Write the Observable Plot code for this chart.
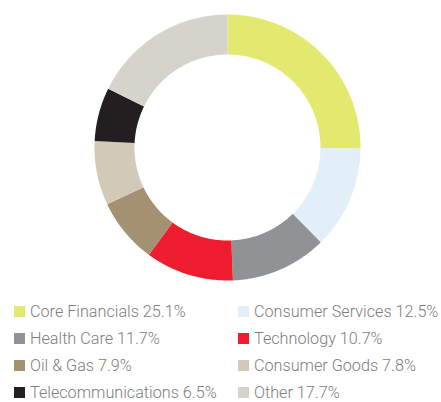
<!DOCTYPE html>
<html>
<head>
<meta charset="utf-8">
<script src="https://cdn.jsdelivr.net/npm/d3@7"></script>
<script src="https://cdn.jsdelivr.net/npm/@observablehq/plot@0.6"></script>
<style>
  html, body { margin: 0; padding: 0; background: #fff; }
  #chart { width: 441px; height: 402px; position: relative; overflow: hidden; }
  #legend { position: absolute; left: 14px; top: 298px; display: grid; grid-template-columns: 224px 200px; }
  .item { display: flex; align-items: center; height: 27px; line-height: 18px; font-family: Roboto, "Open Sans", sans-serif; font-weight: 300; font-size: 16.2px; color: #7d7d7d; white-space: nowrap; }
  .sw { width: 11px; height: 11px; margin-right: 5px; flex: none; }
</style>
</head>
<body>
<div id="chart"></div>
<script>
const categories = ["Core Financials", "Consumer Services", "Health Care", "Technology", "Oil & Gas", "Consumer Goods", "Telecommunications", "Other"];
const values = [25.1, 12.5, 11.7, 10.7, 7.9, 7.8, 6.5, 17.7];
const labels = ["25.1%", "12.5%", "11.7%", "10.7%", "7.9%", "7.8%", "6.5%", "17.7%"];
const colors = ["#e3e86f", "#e2eff8", "#8f9396", "#ed1c2e", "#a39171", "#d3c9b9", "#231f20", "#d5d4cc"];

const OUTER = 60;               // colatitude (deg) of the outer edge
const INNER = OUTER * 93 / 133; // inner edge (hole ratio)
const total = d3.sum(values);
const lon = a => 180 - a;       // clockwise from 12 o'clock

let acc = 0;
const features = categories.map((name, i) => {
  const a0 = acc / total * 360;
  acc += values[i];
  const a1 = acc / total * 360;
  const n = Math.max(2, Math.ceil(a1 - a0));
  const pts = [];
  for (let k = 0; k <= n; k++) pts.push([lon(a0 + (a1 - a0) * k / n), 90 - OUTER]);
  for (let k = n; k >= 0; k--) pts.push([lon(a0 + (a1 - a0) * k / n), 90 - INNER]);
  pts.push(pts[0]);
  let f = {type: "Feature", properties: {name}, geometry: {type: "Polygon", coordinates: [pts]}};
  if (d3.geoArea(f) > 2 * Math.PI) f.geometry.coordinates = [pts.slice().reverse()];
  return f;
});

const plot = Plot.plot({
  width: 441,
  height: 290,
  marginLeft: 94,
  marginRight: 81,
  marginTop: 14,
  marginBottom: 10,
  projection: {
    type: () => d3.geoAzimuthalEquidistant().rotate([0, -90]),
    domain: d3.geoCircle().center([0, 90]).radius(OUTER)()
  },
  color: {domain: categories, range: colors},
  marks: [
    Plot.geo(features, {fill: d => d.properties.name})
  ]
});
const root = document.getElementById("chart");
root.appendChild(plot);

const legend = document.createElement("div");
legend.id = "legend";
categories.forEach((c, i) => {
  const it = document.createElement("div");
  it.className = "item";
  const sw = document.createElement("span");
  sw.className = "sw";
  sw.style.background = colors[i];
  it.appendChild(sw);
  it.appendChild(document.createTextNode(c + " " + labels[i]));
  legend.appendChild(it);
});
root.appendChild(legend);
</script>
</body>
</html>
